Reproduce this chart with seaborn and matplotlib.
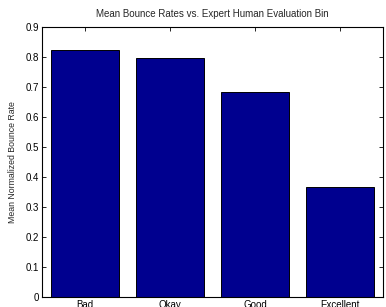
import matplotlib
matplotlib.use("Agg")
import matplotlib.pyplot as plt
import seaborn as sns
import pandas as pd
from matplotlib.ticker import FuncFormatter

categories = ["Bad", "Okay", "Good", "Excellent"]
values = [0.823, 0.797, 0.682, 0.366]
yticks = [0, 0.1, 0.2, 0.3, 0.4, 0.5, 0.6, 0.7, 0.8, 0.9]

sns.set_style("ticks")
plt.rcParams['font.family'] = ['Liberation Sans', 'DejaVu Sans']

df = pd.DataFrame({"bin": categories, "rate": values})

W, H = 386, 307
fig = plt.figure(figsize=(W / 100, H / 100), dpi=100)
ax = fig.add_axes([42 / W, 10 / H, (383 - 42) / W, (297 - 27) / H])

sns.barplot(data=df, x="bin", y="rate", order=categories, color="#00008F",
            saturation=1, edgecolor="black", linewidth=0.7, width=0.8, ax=ax)

ax.set_xlim(-0.5, 3.5)
ax.set_ylim(0, 0.9)
ax.set_yticks(yticks)
ax.yaxis.set_major_formatter(FuncFormatter(lambda v, p: ("%g" % round(v, 2))))
for s in ax.spines.values():
    s.set_visible(True)
    s.set_linewidth(0.8)
    s.set_color("black")
ax.tick_params(direction="in", length=3, width=0.6, top=True, right=True,
               labelsize=7, pad=2, colors="black")
ax.set_xlabel("")
ax.set_ylabel("Mean Normalized Bounce Rate", fontsize=6.3, labelpad=6)
ax.set_title("Mean Bounce Rates vs. Expert Human Evaluation Bin", fontsize=7, pad=7)

fig.savefig("out.png", dpi=100)
